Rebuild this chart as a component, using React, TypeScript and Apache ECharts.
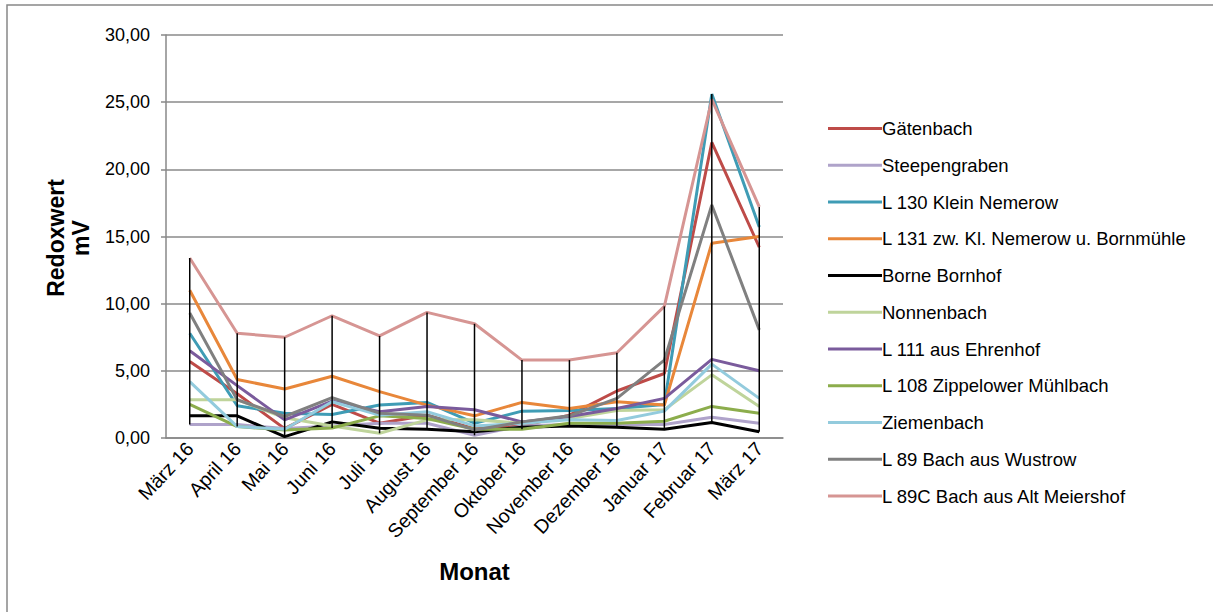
import React, { useEffect, useRef } from "react";
import * as echarts from "echarts";

const categories = ["März 16", "April 16", "Mai 16", "Juni 16", "Juli 16", "August 16", "September 16", "Oktober 16", "November 16", "Dezember 16", "Januar 17", "Februar 17", "März 17"];

const seriesNames = ["Gätenbach", "Steepengraben", "L 130 Klein Nemerow", "L 131 zw. Kl. Nemerow u. Bornmühle", "Borne Bornhof", "Nonnenbach", "L 111 aus Ehrenhof", "L 108 Zippelower Mühlbach", "Ziemenbach", "L 89 Bach aus Wustrow", "L 89C Bach aus Alt Meiershof"];

const gaetenbach = [5.7, 3.3, 0.7, 2.5, 1.1, 1.7, 0.7, 0.9, 1.7, 3.5, 4.8, 22.0, 14.2];
const steepengraben = [1.0, 1.0, 0.7, 0.9, 1.1, 1.1, 0.2, 0.9, 1.0, 1.0, 1.0, 1.55, 1.1];
const l130 = [7.8, 2.4, 1.85, 1.75, 2.45, 2.65, 1.1, 2.0, 2.05, 2.2, 2.5, 25.6, 15.7];
const l131 = [11.0, 4.35, 3.65, 4.6, 3.45, 2.45, 1.65, 2.65, 2.2, 2.7, 2.45, 14.5, 15.0];
const borne = [1.65, 1.65, 0.1, 1.2, 0.72, 0.65, 0.47, 0.8, 0.9, 0.8, 0.65, 1.15, 0.47];
const nonnenbach = [2.85, 2.85, 1.5, 0.9, 0.35, 1.35, 1.35, 1.1, 1.45, 2.05, 2.1, 4.7, 2.35];
const l111 = [6.5, 3.9, 1.35, 2.75, 1.95, 2.35, 2.1, 1.2, 1.6, 2.2, 2.95, 5.85, 5.0];
const l108 = [2.5, 0.85, 0.6, 0.75, 1.65, 1.45, 0.65, 0.65, 1.1, 1.1, 1.25, 2.35, 1.85];
const ziemenbach = [4.2, 0.85, 0.65, 2.7, 1.7, 1.95, 0.9, 1.1, 1.35, 1.3, 2.0, 5.5, 2.95];
const l89 = [9.3, 2.85, 1.6, 3.0, 1.85, 1.7, 0.6, 1.2, 1.65, 2.95, 5.8, 17.35, 8.05];
const l89c = [13.4, 7.8, 7.5, 9.1, 7.6, 9.35, 8.5, 5.8, 5.8, 6.35, 9.8, 25.2, 17.2];

const yTicks = [0, 5, 10, 15, 20, 25, 30];

const allSeries = [gaetenbach, steepengraben, l130, l131, borne, nonnenbach, l111, l108, ziemenbach, l89, l89c];
const colors = ["#BE4B48", "#AFA3CA", "#3F9CB5", "#E8873A", "#000000", "#BFD49B", "#7A5B9C", "#8CAD4C", "#93CBDD", "#808080", "#D69593"];

export default function App() {
  const ref = useRef<HTMLDivElement>(null);
  useEffect(() => {
    if (!ref.current) return;
    const chart = echarts.init(ref.current, null, { renderer: "svg" });
    const hiLo = categories.map((_, i) => {
      const vals = allSeries.map((s) => s[i]);
      return [i, Math.min(...vals), Math.max(...vals)];
    });
    const font = "'Liberation Sans', Arial, sans-serif";
    chart.setOption({
      animation: false,
      backgroundColor: "#ffffff",
      textStyle: { fontFamily: font },
      grid: { left: 166, right: 430, top: 35, bottom: 174, containLabel: false },
      legend: {
        orient: "vertical",
        left: 823,
        top: 114,
        icon: "rect",
        itemWidth: 54,
        itemHeight: 3,
        itemGap: 17.75,
        data: seriesNames,
        textStyle: { fontFamily: font, fontSize: 18.5, color: "#000", padding: [0, 0, 0, -5] },
      },
      xAxis: {
        type: "category",
        data: categories,
        boundaryGap: true,
        axisLine: { lineStyle: { color: "#888", width: 1.5 } },
        axisTick: { show: false },
        axisLabel: { rotate: 47, fontFamily: font, fontSize: 19.5, color: "#000", margin: 7, interval: 0 },
        name: "Monat",
        nameLocation: "middle",
        nameGap: 121,
        nameTextStyle: { fontFamily: font, fontSize: 24, fontWeight: "bold", color: "#000" },
      },
      yAxis: {
        type: "value",
        min: yTicks[0],
        max: yTicks[yTicks.length - 1],
        interval: 5,
        axisLine: { show: true, lineStyle: { color: "#888", width: 1.5 } },
        axisTick: { show: true, inside: false, length: 5, lineStyle: { color: "#888", width: 1.5 } },
        splitLine: { lineStyle: { color: "#8a8a8a", width: 1.5 } },
        axisLabel: {
          fontFamily: font,
          fontSize: 18,
          color: "#000",
          margin: 16,
          formatter: (v: number) => v.toFixed(2).replace(".", ","),
        },
      },
      graphic: [
        {
          type: "rect",
          shape: { x: 7, y: 5, width: 1230, height: 640 },
          style: { fill: "none", stroke: "#888", lineWidth: 1.5 },
          silent: true,
        },
        {
          type: "text",
          x: 68,
          y: 238,
          rotation: Math.PI / 2,
          style: {
            text: "Redoxwert\nmV",
            fontFamily: font,
            fontSize: 23,
            fontWeight: "bold",
            fill: "#000",
            align: "center",
            verticalAlign: "middle",
            lineHeight: 25,
          },
        },
      ],
      series: [
        ...allSeries.map((data, k) => ({
          name: seriesNames[k],
          type: "line",
          data,
          symbol: "none",
          color: colors[k],
          lineStyle: { width: 3, color: colors[k] },
          z: 2,
        })),
        {
          type: "custom",
          name: "hilo",
          data: hiLo,
          z: 3,
          renderItem: (params: any, api: any) => {
            const i = api.value(0);
            const p1 = api.coord([i, api.value(1)]);
            const p2 = api.coord([i, api.value(2)]);
            return {
              type: "line",
              shape: { x1: p1[0], y1: p1[1], x2: p2[0], y2: p2[1] },
              style: { stroke: "#000", lineWidth: 1.5 },
            };
          },
        },
      ],
    });
    return () => chart.dispose();
  }, []);
  return <div ref={ref} style={{ position: "fixed", left: 0, top: 0, width: 1213, height: 612 }} />;
}
